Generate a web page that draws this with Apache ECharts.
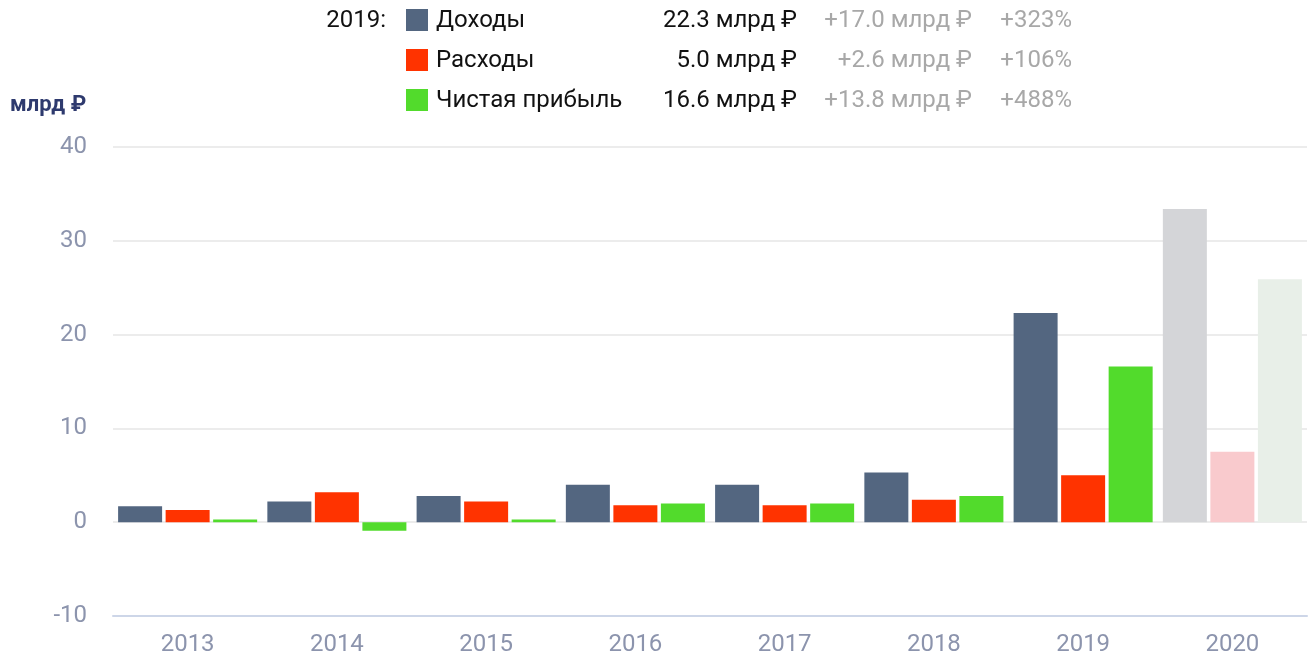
<!DOCTYPE html>
<html><head><meta charset="utf-8">
<script src="https://cdn.jsdelivr.net/npm/echarts@6/dist/echarts.min.js"></script>
<style>html,body{margin:0;padding:0;background:#fff}#c{width:1308px;height:660px}</style>
</head><body><div id="c"></div>
<script>
const years = ['2013','2014','2015','2016','2017','2018','2019','2020'];
const income = [1.7, 2.2, 2.8, 4.0, 4.0, 5.3, 22.3, 33.4];
const expenses = [1.3, 3.2, 2.2, 1.8, 1.8, 2.4, 5.0, 7.5];
const profit = [0.3, -0.9, 0.3, 2.0, 2.0, 2.8, 16.6, 25.9];
const forecastIndex = 7;
const seriesNames = ['Доходы', 'Расходы', 'Чистая прибыль'];
const legendYear = '2019:';
const legendValues = ['22.3 млрд ₽', '5.0 млрд ₽', '16.6 млрд ₽'];
const legendDiffs = ['+17.0 млрд ₽', '+2.6 млрд ₽', '+13.8 млрд ₽'];
const legendPcts = ['+323%', '+106%', '+488%'];
const yUnit = 'млрд ₽';
const yMin = -10, yMax = 40, yStep = 10;

const FONT = "Roboto, sans-serif";
const mainColors = ['#536680', '#ff3300', '#52db2c'];
const lightColors = ['#d4d5d8', '#f9cacd', '#e8efe8'];
const allData = [income, expenses, profit];

const chart = echarts.init(document.getElementById('c'), null, {renderer: 'canvas'});

const graphics = [];
graphics.push({type: 'text', x: 10, y: 105, style: {text: yUnit, fontSize: 22, fontWeight: 'bold', fill: '#2e3a6e', fontFamily: FONT, textVerticalAlign: 'middle'}});
graphics.push({type: 'text', x: 386, y: 21, style: {text: legendYear, fontSize: 24, fill: '#111', fontFamily: FONT, textAlign: 'right', textVerticalAlign: 'middle'}});
seriesNames.forEach((n, i) => {
  const cy = 20 + i * 40;
  graphics.push({type: 'rect', shape: {x: 406, y: cy - 11, width: 22, height: 22}, style: {fill: mainColors[i]}});
  graphics.push({type: 'text', x: 436, y: cy + 1, style: {text: n, fontSize: 24, fill: '#111', fontFamily: FONT, textVerticalAlign: 'middle'}});
  graphics.push({type: 'text', x: 797, y: cy + 1, style: {text: legendValues[i], fontSize: 24, fill: '#111', fontFamily: FONT, textAlign: 'right', textVerticalAlign: 'middle'}});
  graphics.push({type: 'text', x: 972, y: cy + 1, style: {text: legendDiffs[i], fontSize: 24, fill: '#a8a8a8', fontFamily: FONT, textAlign: 'right', textVerticalAlign: 'middle'}});
  graphics.push({type: 'text', x: 1072, y: cy + 1, style: {text: legendPcts[i], fontSize: 24, fill: '#a8a8a8', fontFamily: FONT, textAlign: 'right', textVerticalAlign: 'middle'}});
});

const series = allData.map((arr, si) => ({
  name: seriesNames[si],
  type: 'bar',
  barWidth: 44,
  barGap: '8%',
  data: arr.map((v, i) => i === forecastIndex ? {value: v, itemStyle: {color: lightColors[si]}} : v),
  itemStyle: {color: mainColors[si]},
  silent: true
}));

chart.setOption({
  animation: false,
  backgroundColor: '#fff',
  grid: {left: 113, right: 1, top: 147, bottom: 44, containLabel: false},
  xAxis: {
    type: 'category', data: years,
    axisLine: {onZero: false, lineStyle: {color: '#cdd6e8', width: 2}},
    axisTick: {show: false},
    axisLabel: {fontSize: 24, color: '#8c94ad', margin: 17, fontFamily: FONT}
  },
  yAxis: {
    type: 'value', min: yMin, max: yMax, interval: yStep,
    axisLine: {show: false}, axisTick: {show: false},
    axisLabel: {fontSize: 24, color: '#8c94ad', margin: 26, fontFamily: FONT},
    splitLine: {lineStyle: {color: '#e6e6e6', width: 1.5}}
  },
  series: series,
  graphic: graphics
});
</script></body></html>
